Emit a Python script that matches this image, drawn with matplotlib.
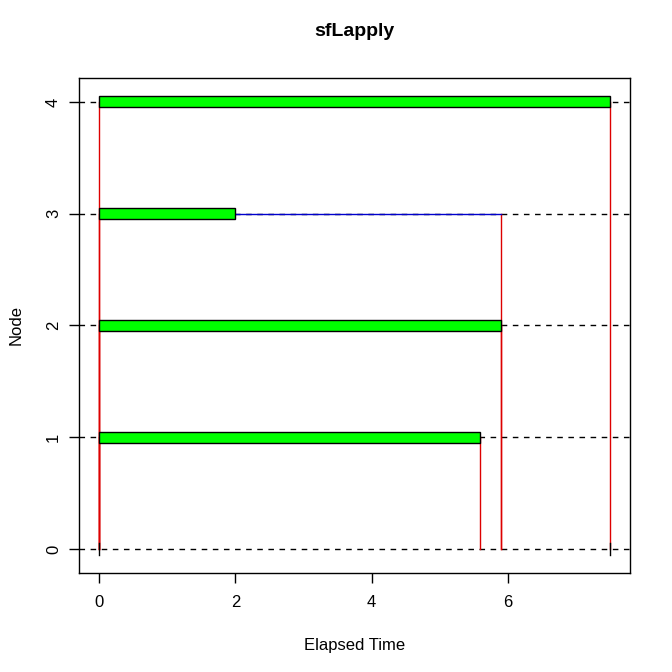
import matplotlib
matplotlib.use("Agg")
import matplotlib.pyplot as plt

plt.rcParams['font.family'] = ['Liberation Sans', 'DejaVu Sans']

# snow cluster timing: worker nodes and their job intervals
nodes = [1, 2, 3, 4]
job_start = [0.0, 0.0, 0.0, 0.0]
job_end = [5.6, 5.9, 2.0, 7.5]
# time the master collected each result
recv_time = [5.6, 5.9, 5.9, 7.5]
# master (node 0) marks
master_times = [0.0, 7.5]
all_nodes = [0, 1, 2, 3, 4]
x_ticks = [0, 2, 4, 6]

fig = plt.figure(figsize=(6.72, 6.72), dpi=100)
ax = fig.add_axes([0.1176, 0.1473, 0.82, 0.7367])

h = 0.1

# grid lines at every node
for n in all_nodes:
    ax.axhline(n, color='black', linestyle=(0, (4, 4)), lw=1, zorder=1)

# send lines (master -> worker) and return lines (worker -> master)
for n, s, r in zip(nodes, job_start, recv_time):
    ax.plot([s, s], [0, n], color='#dd0000', lw=1, zorder=2)
    ax.plot([r, r], [n, 0], color='#dd0000', lw=1, zorder=2)

# waiting lines
for n, e, r in zip(nodes, job_end, recv_time):
    if r > e:
        ax.plot([e, r], [n, n], color='#0000cc', lw=1, zorder=2)

# job bars
ax.barh(nodes, [e - s for s, e in zip(job_start, job_end)], left=job_start,
        height=h, color='#00ff00', edgecolor='black', lw=1, zorder=3)
# master zero-width bars
for t in master_times:
    ax.plot([t, t], [-h / 2, h / 2], color='black', lw=1, zorder=3)

xmin, xmax = 0.0, max(job_end)
pad = (xmax - xmin) * 0.04
ax.set_xlim(xmin - pad, xmax + pad)
ymin, ymax = -h / 2, max(nodes) + h / 2
pad = (ymax - ymin) * 0.04
ax.set_ylim(ymin - pad, ymax + pad)

ax.set_xticks(x_ticks)
ax.set_yticks(all_nodes)
ax.set_yticklabels([str(n) for n in all_nodes], rotation=90, va='center')
ax.tick_params(direction='out', length=7, width=1, labelsize=12)
ax.tick_params(axis='x', pad=9)
ax.tick_params(axis='y', pad=6)
for sp in ax.spines.values():
    sp.set_linewidth(1)

ax.set_xlabel('Elapsed Time', fontsize=12, labelpad=20)
ax.set_ylabel('Node', fontsize=12, labelpad=16)
ax.set_title('sfLapply', fontsize=14, fontweight='bold', pad=30)

fig.savefig('out.png', dpi=100)
